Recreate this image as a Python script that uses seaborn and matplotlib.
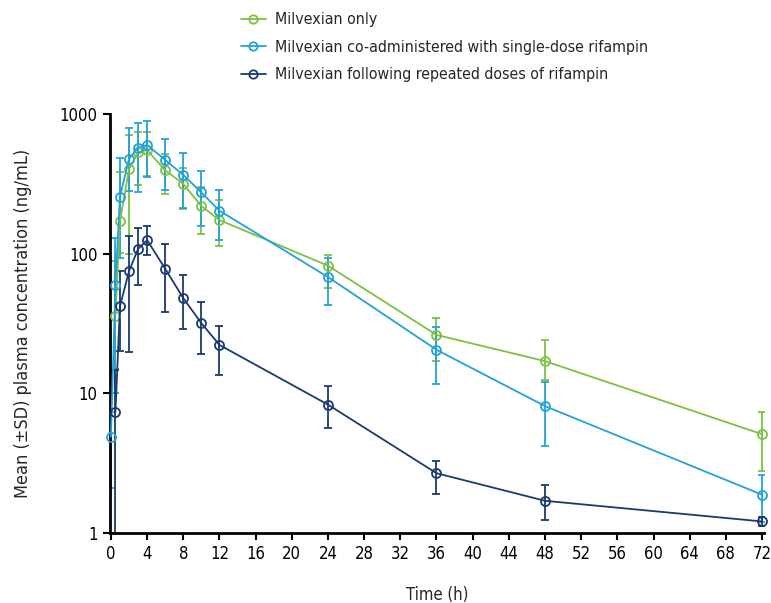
import pandas as pd
import numpy as np
import seaborn as sns
import matplotlib.pyplot as plt
from matplotlib import font_manager

# mean and SD bounds (ng/mL)
t_only = [0.5, 1, 2, 3, 4, 6, 8, 10, 12, 24, 36, 48, 72]
mean_only = [36, 171, 402, 532, 552, 395, 316, 219, 174, 82, 26.2, 17, 5.1]
hi_only = [88, 384, 711, 747, 740, 514, 410, 300, 242, 97, 34.5, 24, 7.3]
lo_only = [15, 101, 100, 311, 360, 267, 209, 138, 113, 57, 17.1, 12.5, 2.8]

t_single = [0, 0.5, 1, 2, 3, 4, 6, 8, 10, 12, 24, 36, 48, 72]
mean_single = [4.9, 60, 256, 477, 574, 600, 469, 366, 274, 203, 68, 20.5, 8.1, 1.88]
hi_single = [7.3, 129, 486, 798, 867, 895, 666, 528, 393, 286, 93, 29.7, 12, 2.6]
lo_single = [2.1, 10, 93, 280, 278, 354, 286, 212, 158, 125, 43, 11.7, 4.2, 1.2]

t_repeat = [0.5, 1, 2, 3, 4, 6, 8, 10, 12, 24, 36, 48, 72]
mean_repeat = [7.4, 42, 75, 108, 125, 78, 48, 31.8, 22.2, 8.3, 2.68, 1.7, 1.21]
hi_repeat = [14.7, 75, 134, 153, 158, 117, 70, 45, 30.5, 11.3, 3.3, 2.2, 1.3]
lo_repeat = [0.5, 20, 19.7, 60, 97, 38, 29, 19, 13.6, 5.6, 1.9, 1.24, 1.12]

labels = ['Milvexian only',
          'Milvexian co-administered with single-dose rifampin',
          'Milvexian following repeated doses of rifampin']
colors = ['#7dc142', '#22a2d8', '#1b3a6e']

x_ticks = list(range(0, 73, 4))
y_ticks = [1, 10, 100, 1000]

rows = []
for lab, t, m, h, l in [(labels[0], t_only, mean_only, hi_only, lo_only),
                        (labels[1], t_single, mean_single, hi_single, lo_single),
                        (labels[2], t_repeat, mean_repeat, hi_repeat, lo_repeat)]:
    for a, b, c, d in zip(t, m, h, l):
        rows.append({'group': lab, 'time': a, 'mean': b, 'hi': c, 'lo': d})
df = pd.DataFrame(rows)

sns.set_style('ticks')
# pick a narrow font if one is around
fonts = font_manager.fontManager.ttflist
names = {f.name for f in fonts}
fs = 12
if 'Liberation Sans Narrow' in names:
    plt.rcParams['font.family'] = ['Liberation Sans Narrow', 'DejaVu Sans']
    fs = 13
elif any(f.name == 'DejaVu Sans' and f.stretch == 'condensed' for f in fonts):
    plt.rcParams['font.family'] = ['DejaVu Sans']
    plt.rcParams['font.stretch'] = 'condensed'
    fs = 12
else:
    plt.rcParams['font.family'] = ['Liberation Sans', 'DejaVu Sans']
    fs = 11

fig = plt.figure(figsize=(7.71, 6.03), dpi=100)
ax = fig.add_axes([0.1427, 0.1161, 0.8457 + 0.0023, 0.6949])

pal = dict(zip(labels, colors))
sns.lineplot(data=df, x='time', y='mean', hue='group', hue_order=labels,
             palette=pal, marker='o', markersize=6.5, linewidth=1.3, ax=ax,
             estimator=None, sort=True, zorder=3)
data_lines = list(ax.lines)
for ln, c in zip(data_lines, colors):
    ln.set_markeredgecolor(c)
    ln.set_markerfacecolor('none')
    ln.set_markeredgewidth(1.3)
    ln.set_clip_on(False)

for lab in labels:
    d = df[df['group'] == lab]
    ax.errorbar(d['time'], d['mean'],
                yerr=[d['mean'] - d['lo'], d['hi'] - d['mean']],
                fmt='none', ecolor=pal[lab], elinewidth=1.3, capsize=3,
                capthick=1.3, zorder=2)

ax.set_yscale('log')
ax.set_ylim(1, 1000)
ax.set_xlim(-0.1, 72.2)
ax.set_xticks(x_ticks)
ax.set_xticklabels([str(v) for v in x_ticks])
ax.set_yticks(y_ticks)
ax.set_yticklabels([str(v) for v in y_ticks])
ax.yaxis.set_minor_locator(plt.NullLocator())
ax.tick_params(axis='both', length=5, width=1.5, labelsize=fs, colors='black', pad=4)
for s in ['left', 'bottom']:
    ax.spines[s].set_linewidth(2)
    ax.spines[s].set_color('black')
for s in ['top', 'right']:
    ax.spines[s].set_visible(False)

ax.set_xlabel('Time (h)', fontsize=fs, labelpad=16)
ax.set_ylabel('Mean (\u00b1SD) plasma concentration (ng/mL)', fontsize=fs + 1, labelpad=20)

leg = ax.legend(data_lines, labels, loc='lower left', bbox_to_anchor=(0.19, 1.06),
                frameon=False, fontsize=fs - 0.6, handlelength=1.6, handletextpad=0.6,
                labelspacing=0.8, borderaxespad=0)
for h, c in zip(leg.legend_handles, colors):
    h.set_markeredgecolor(c)
    h.set_markerfacecolor('none')
    h.set_markersize(6)

fig.savefig('out.png', dpi=100)
